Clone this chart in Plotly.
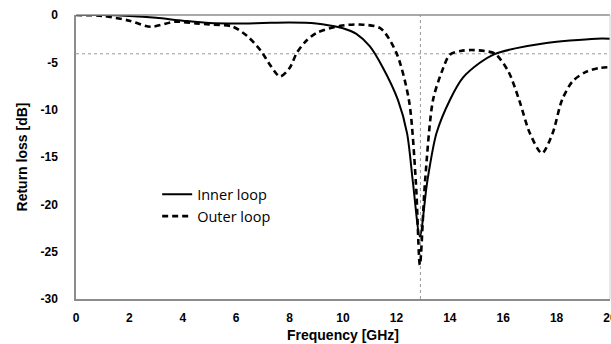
import plotly.graph_objects as go

# Inner loop (solid)
inner_f = [0, 1, 2, 3, 4, 5, 6, 7, 8, 9, 9.5, 10, 10.5, 11, 11.5, 12.06, 12.4, 12.62, 12.88,
           13.15, 13.5, 14.0, 14.5, 15.1, 15.7, 16.5, 17.5, 18.5, 19.5, 20]
inner_db = [0, 0, -0.1, -0.3, -0.6, -0.85, -0.9, -0.85, -0.8, -0.9, -1.1, -1.4, -2.0, -3.3, -5.6, -9.0,
            -12.5, -17.7, -23.4, -17.7, -12.5, -9.0, -6.6, -5.1, -4.1, -3.5, -3.0, -2.7, -2.5, -2.5]

# Outer loop (dashed)
outer_f = [0, 1, 2, 2.8, 3.7, 4.5, 5.0, 5.84, 6.4, 6.9, 7.3, 7.64, 8.0, 8.27, 8.6, 9.0, 9.9, 10.6, 11.4,
           12.0, 12.47, 12.73, 12.88, 13.07, 13.37, 13.7, 14.0, 14.4, 14.8, 15.3, 15.7, 16.2, 16.6,
           17.0, 17.45, 17.85, 18.2, 18.6, 19.1, 19.6, 20]
outer_db = [0, -0.1, -0.6, -1.25, -0.7, -0.9, -1.0, -1.2, -2.2, -3.7, -5.4, -6.5, -5.6, -4.0, -2.8, -1.9,
            -1.15, -1.0, -1.4, -4.0, -9.0, -17.7, -26.4, -17.7, -9.0, -6.0, -4.2, -3.8, -3.7, -3.8,
            -4.1, -6.0, -9.0, -12.5, -14.6, -12.5, -9.0, -7.0, -6.0, -5.6, -5.5]

x_ticks = [0, 2, 4, 6, 8, 10, 12, 14, 16, 18, 20]
x_tick_labels = ["0", "2", "4", "6", "8", "10", "12", "14", "16", "18", "20"]
y_ticks = [0, -5, -10, -15, -20, -25, -30]
y_tick_labels = ["0", "-5", "-10", "-15", "-20", "-25", "-30"]
ref_db = -4.1
ref_f = 12.9

fig = go.Figure()
fig.add_trace(go.Scatter(x=inner_f, y=inner_db, mode="lines", name="Inner loop",
                         line=dict(color="black", width=2, shape="spline", smoothing=0.8)))
fig.add_trace(go.Scatter(x=outer_f, y=outer_db, mode="lines", name="Outer loop",
                         line=dict(color="black", width=2.6, dash="6px,4px", shape="spline", smoothing=0.8)))

fig.add_hline(y=ref_db, line=dict(color="#999999", width=1, dash="dot"), layer="below")
fig.add_vline(x=ref_f, line=dict(color="#999999", width=1, dash="dot"), layer="below")

tickfont = dict(family="Liberation Sans", size=12, color="black", weight="bold")
titlefont = dict(family="Liberation Sans", size=14, color="black", weight="bold")

fig.update_layout(
    width=611, height=344,
    margin=dict(l=76, r=1, t=15, b=45),
    plot_bgcolor="white", paper_bgcolor="white",
    showlegend=True,
    legend=dict(x=0.152, y=0.425, xanchor="left", yanchor="top",
                font=dict(family="Open Sans", size=14.5, color="black"),
                bgcolor="rgba(0,0,0,0)", tracegroupgap=0, itemwidth=30),
    xaxis=dict(range=[0, 20], tickvals=x_ticks, ticktext=x_tick_labels, ticks="",
               showgrid=False, zeroline=False,
               showline=True, linecolor="#8c8c8c", linewidth=1.5, mirror=False,
               tickfont=tickfont, ticklabelstandoff=7, automargin=False,
               ticklabeloverflow="allow",
               title=dict(text="Frequency [GHz]", font=titlefont, standoff=6)),
    yaxis=dict(range=[-30, 0], tickvals=y_ticks, ticktext=y_tick_labels, ticks="",
               showgrid=False, zeroline=False,
               showline=True, linecolor="#8c8c8c", linewidth=1.5,
               tickfont=tickfont, ticklabelstandoff=14, automargin=False,
               title=dict(text="Return loss [dB]", font=titlefont, standoff=10)),
)
# top and right plot borders
fig.add_shape(type="line", xref="paper", yref="paper", x0=0, x1=1, y0=1, y1=1,
              line=dict(color="#8c8c8c", width=1.5))
fig.add_shape(type="line", xref="paper", yref="paper", x0=1, x1=1, y0=0, y1=1,
              line=dict(color="#d0d0d0", width=1))

fig.write_html("out.html", config={"displayModeBar": False},
               post_script="document.body.style.margin='0';document.body.style.overflow='hidden';")
